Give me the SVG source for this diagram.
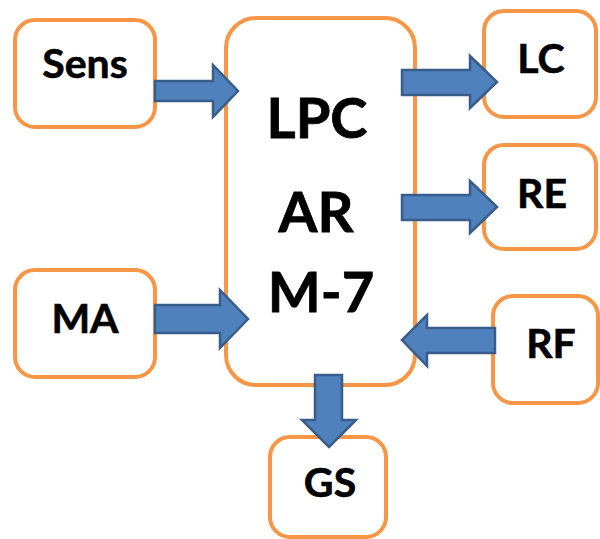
<svg xmlns="http://www.w3.org/2000/svg" width="600" height="539" viewBox="0 0 600 539">
  <style>
    .box { fill: #ffffff; stroke: #F79646; stroke-width: 4; }
    .lbl { font-family: Lato, "Open Sans", "Liberation Sans", sans-serif; font-weight: bold; fill: #000000; text-anchor: middle; stroke: #000000; stroke-width: 0.6; }
    .small { font-size: 41px; }
    .big { font-size: 56px; stroke-width: 0.8; }
    .arrow { fill: #4F81BD; stroke: #385D8A; stroke-width: 2.5; stroke-linejoin: miter; }
  </style>
  <rect width="600" height="539" fill="#ffffff"/>

  <g id="sens">
    <rect class="box" x="15" y="20" width="140" height="107" rx="20"/>
    <text class="lbl small" x="85" y="78">Sens</text>
  </g>
  <g id="ma">
    <rect class="box" x="15" y="270" width="140" height="107" rx="20"/>
    <text class="lbl small" x="85" y="333">MA</text>
  </g>
  <g id="core">
    <rect class="box" x="226" y="18" width="189" height="367" rx="30"/>
    <text class="lbl big" x="317" y="138">LPC</text>
    <text class="lbl big" x="316" y="232">AR</text>
    <text class="lbl big" x="321" y="312">M-7</text>
  </g>
  <g id="lc">
    <rect class="box" x="484" y="11" width="112" height="106" rx="20"/>
    <text class="lbl small" x="541" y="73">LC</text>
  </g>
  <g id="re">
    <rect class="box" x="484" y="145" width="112" height="104" rx="20"/>
    <text class="lbl small" x="542" y="208">RE</text>
  </g>
  <g id="rf">
    <rect class="box" x="493" y="296" width="105" height="107" rx="20"/>
    <text class="lbl small" x="551" y="358">RF</text>
  </g>
  <g id="gs">
    <rect class="box" x="270" y="437" width="116" height="100" rx="20"/>
    <text class="lbl small" x="330" y="497">GS</text>
  </g>

  <g id="connectors">
    <polygon class="arrow" points="155,81 213,81 213,65 238,91 213,117 213,101 155,101"/>
    <polygon class="arrow" points="155,305 220,305 220,290 248,319 220,348 220,333 155,333"/>
    <polygon class="arrow" points="402,70 470,70 470,56 497,82 470,108 470,95 402,95"/>
    <polygon class="arrow" points="402,195 470,195 470,181 497,207 470,233 470,220 402,220"/>
    <polygon class="arrow" points="495,328 427,328 427,315 402,340 427,366 427,353 495,353"/>
    <polygon class="arrow" points="315,375 342,375 342,420 356,420 329,447 302,420 315,420"/>
  </g>
</svg>
